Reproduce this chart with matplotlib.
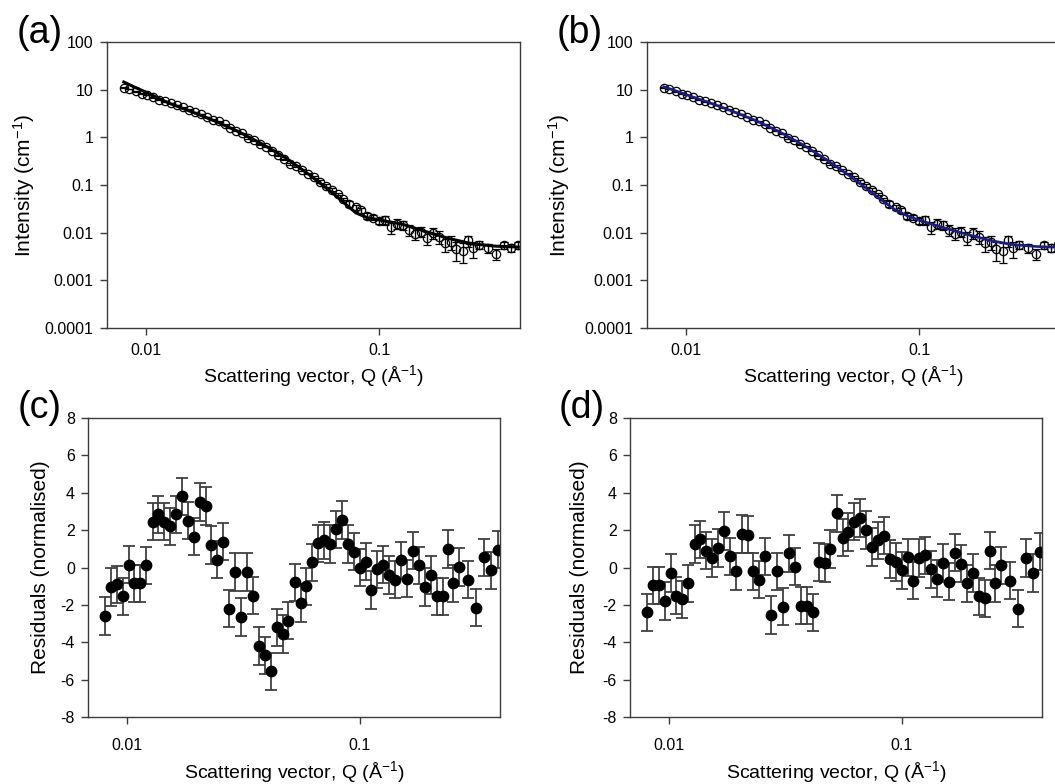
#! /usr/bin/env python3

import numpy as np
import matplotlib
matplotlib.use('Agg')
import matplotlib.pyplot as plt
from matplotlib.ticker import FixedLocator, FixedFormatter, NullLocator

plt.rcParams['font.family'] = ['Liberation Sans', 'DejaVu Sans']
plt.rcParams['mathtext.fontset'] = 'custom'
plt.rcParams['mathtext.rm'] = 'Liberation Sans'
plt.rcParams['mathtext.it'] = 'Liberation Sans:italic'
plt.rcParams['axes.unicode_minus'] = False

# scattering vector Q (1/A) of each measured point
q = [0.00806, 0.00852, 0.00905, 0.00961, 0.01017, 0.01076, 0.01142, 0.01209,
     0.01288, 0.01363, 0.01442, 0.01531, 0.01625, 0.01725, 0.01826, 0.01939,
     0.02058, 0.02178, 0.02305, 0.02446, 0.02597, 0.02748, 0.02918, 0.03097,
     0.03289, 0.03480, 0.03683, 0.03910, 0.04151, 0.04393, 0.04664, 0.04935,
     0.05257, 0.05563, 0.05886, 0.06248, 0.06633, 0.07021, 0.07454, 0.07913,
     0.08375, 0.08890, 0.09408, 0.09988, 0.1060, 0.1122, 0.1191, 0.1261,
     0.1338, 0.1421, 0.1504, 0.1596, 0.1694, 0.1794, 0.1904, 0.2021,
     0.2139, 0.2271, 0.2403, 0.2509, 0.2664, 0.2914, 0.3167, 0.3420,
     0.3666, 0.3931]

# measured intensity (1/cm)
intensity = [11.06, 10.27, 9.28, 8.27, 7.69, 6.85, 6.18, 5.68,
             5.26, 4.76, 4.27, 3.81, 3.43, 3.08, 2.69, 2.36,
             2.15, 1.88, 1.605, 1.386, 1.223, 0.968, 0.876, 0.709,
             0.638, 0.527, 0.418, 0.348, 0.2717, 0.2512, 0.2045, 0.1737,
             0.1482, 0.1181, 0.0974, 0.0804, 0.0648, 0.0504, 0.0402, 0.0338,
             0.0293, 0.0229, 0.0208, 0.01795, 0.01849, 0.01317, 0.01540, 0.01453,
             0.01159, 0.00957, 0.01055, 0.00786, 0.00992, 0.00827, 0.00610, 0.00643,
             0.00449, 0.00413, 0.00690, 0.00467, 0.00558, 0.00478, 0.00355, 0.00540,
             0.00477, 0.00549]

intensity_err = [0.172, 0.156, 0.141, 0.128, 0.116, 0.105, 0.095, 0.086,
                 0.077, 0.070, 0.063, 0.057, 0.051, 0.045, 0.040, 0.036,
                 0.031, 0.027, 0.024, 0.021, 0.030, 0.026, 0.022, 0.019,
                 0.016, 0.013, 0.011, 0.0092, 0.0120, 0.0099, 0.0081, 0.0067,
                 0.0053, 0.0065, 0.0052, 0.0042, 0.0034, 0.0027, 0.0051, 0.0042,
                 0.0036, 0.0031, 0.0028, 0.0025, 0.0042, 0.0038, 0.0035, 0.0032,
                 0.0030, 0.0027, 0.0025, 0.0023, 0.0026, 0.0024, 0.0022, 0.0021,
                 0.0020, 0.0018, 0.0018, 0.0017, 0.0010, 0.00095, 0.00092, 0.00091,
                 0.00090, 0.00088]

# model curves
q_fit = [0.00806, 0.0090, 0.0100, 0.0126, 0.0158, 0.0200, 0.0251, 0.0316,
         0.0398, 0.0501, 0.0631, 0.0708, 0.0794, 0.0891, 0.1000, 0.1259,
         0.1585, 0.1995, 0.2512, 0.3162, 0.3931]
fit_a = [14.5, 11.2, 8.9, 5.2, 3.4, 2.15, 1.30, 0.72,
         0.37, 0.165, 0.068, 0.042, 0.026, 0.0205, 0.0185, 0.0150,
         0.0105, 0.0075, 0.0058, 0.0052, 0.0050]
fit_b = [11.5, 9.6, 7.94, 5.37, 3.55, 2.24, 1.32, 0.708,
         0.347, 0.158, 0.0676, 0.0437, 0.0295, 0.0224, 0.0182, 0.0129,
         0.00933, 0.00692, 0.00562, 0.00513, 0.00491]

# normalised residuals
resid_c = [-2.6, -1.05, -0.9, -1.55, 0.15, -0.85, -0.85, 0.12,
           2.45, 2.85, 2.45, 2.2, 2.85, 3.8, 2.5, 1.65,
           3.5, 3.3, 1.2, 0.42, 1.38, -2.2, -0.25, -2.65,
           -0.25, -1.5, -4.2, -4.7, -5.55, -3.2, -3.55, -2.85,
           -0.8, -1.9, -1.0, 0.28, 1.3, 1.45, 1.25, 2.05,
           2.55, 1.25, 0.85, 0.0, 0.32, -1.2, -0.1, 0.15,
           -0.4, -0.65, 0.38, -0.6, 0.9, 0.12, -1.05, -0.4,
           -1.55, -1.55, 1.0, -0.85, 0.02, -0.65, -2.15, 0.55,
           -0.15, 0.95]
resid_d = [-2.4, -0.95, -0.95, -1.8, -0.3, -1.5, -1.7, -0.85,
           1.25, 1.5, 0.9, 0.5, 1.05, 1.95, 0.6, -0.2,
           1.8, 1.75, -0.2, -0.65, 0.6, -2.55, -0.2, -2.1,
           0.75, 0.05, -2.05, -2.05, -2.4, 0.3, 0.25, 1.0,
           2.9, 1.6, 1.9, 2.45, 2.65, 2.0, 1.1, 1.45,
           1.7, 0.45, 0.3, -0.15, 0.55, -0.7, 0.5, 0.65,
           -0.1, -0.6, 0.25, -0.75, 0.8, 0.2, -0.85, -0.3,
           -1.55, -1.65, 0.9, -0.85, 0.12, -0.7, -2.2, 0.5,
           -0.3, 0.85]

q_ticks = [0.01, 0.1]
q_ticklabels = ['0.01', '0.1']
i_ticks = [1e-4, 1e-3, 1e-2, 1e-1, 1, 10, 100]
i_ticklabels = ['0.0001', '0.001', '0.01', '0.1', '1', '10', '100']
r_ticks = [-8, -6, -4, -2, 0, 2, 4, 6, 8]
r_ticklabels = ['-8', '-6', '-4', '-2', '0', '2', '4', '6', '8']

W, H = 1055, 784
fig = plt.figure(figsize=(W / 100, H / 100), dpi=100)


def box(x0, y0, x1, y1):
    return [x0 / W, 1 - y1 / H, (x1 - x0) / W, (y1 - y0) / H]


spine_col = '#3c3c3c'
xlab = r'Scattering vector, Q (Å$^{-1}$)'


def style(ax, ylabel, ylab_x, xlab_y, xpad):
    ax.set_xscale('log')
    ax.set_xlim(0.0068, 0.40)
    ax.xaxis.set_major_locator(FixedLocator(q_ticks))
    ax.xaxis.set_major_formatter(FixedFormatter(q_ticklabels))
    ax.xaxis.set_minor_locator(NullLocator())
    for s in ax.spines.values():
        s.set_color(spine_col)
        s.set_linewidth(1.0)
    ax.tick_params(which='both', direction='out', length=5, width=1,
                   color=spine_col, labelsize=11.5, top=False, right=False)
    ax.tick_params(axis='x', pad=xpad)
    ax.tick_params(axis='y', pad=4.5)
    ax.set_ylabel(ylabel, fontsize=15)
    ax.yaxis.set_label_coords(ylab_x, 0.5)
    ax.set_xlabel(xlab, fontsize=14)
    ax.xaxis.set_label_coords(0.5, xlab_y)


# intensity panels
for k, (fit, col) in enumerate([(fit_a, 'black'), (fit_b, '#1c1c84')]):
    if k == 0:
        ax = fig.add_axes(box(106.5, 42, 520, 328))
    else:
        ax = fig.add_axes(box(646.5, 42, 1060, 328))
    ax.errorbar(q, intensity, yerr=intensity_err, fmt='o', ms=6, mfc='none',
                mec='black', mew=0.9, ecolor='black', elinewidth=1.0,
                capsize=3, capthick=1.0, zorder=2)
    ax.plot(q_fit, fit, '-', color=col, lw=2.2 if k == 0 else 1.9, zorder=3)
    ax.set_yscale('log')
    ax.set_ylim(1e-4, 100)
    ax.yaxis.set_major_locator(FixedLocator(i_ticks))
    ax.yaxis.set_major_formatter(FixedFormatter(i_ticklabels))
    ax.yaxis.set_minor_locator(NullLocator())
    style(ax, r'Intensity (cm$^{-1}$)', -0.168 if k == 0 else -0.18, -0.122, 6)

# residual panels
for k, res in enumerate([resid_c, resid_d]):
    if k == 0:
        ax = fig.add_axes(box(88, 418, 500, 717))
    else:
        ax = fig.add_axes(box(630, 418, 1042, 717))
    ax.errorbar(q, res, yerr=1.0, fmt='o', ms=7.5, mfc='black', mec='black',
                ecolor='#404040', elinewidth=1.3, capsize=4, capthick=1.3)
    ax.set_ylim(-8, 8)
    ax.yaxis.set_major_locator(FixedLocator(r_ticks))
    ax.yaxis.set_major_formatter(FixedFormatter(r_ticklabels))
    style(ax, 'Residuals (normalised)', -0.092 if k == 0 else -0.1, -0.14, 10)

for lab, x, y in [('(a)', 40, 33), ('(b)', 580, 33), ('(c)', 40, 408), ('(d)', 582, 408)]:
    fig.text(x / W, 1 - y / H, lab, fontsize=27, ha='center', va='center')

fig.savefig('out.png', dpi=100)
